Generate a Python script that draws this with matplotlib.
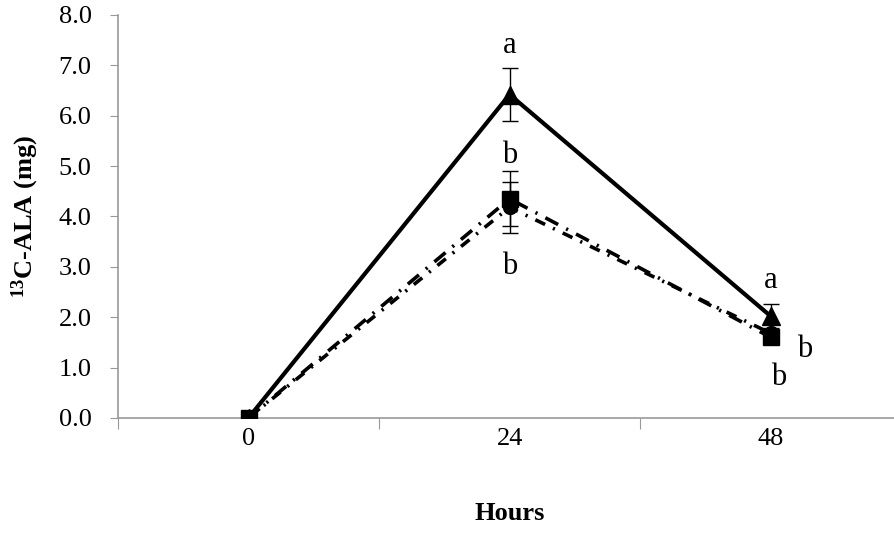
import matplotlib.pyplot as plt

plt.rcParams['font.family'] = ['Liberation Serif', 'DejaVu Serif']

hours = ['0', '24', '48']
tri_mean = [0.0, 6.42, 2.02]
tri_err = [0.0, 0.52, 0.24]
sq_mean = [0.0, 4.35, 1.6]
sq_err = [0.0, 0.55, 0.0]
circ_mean = [0.0, 4.18, 1.68]
circ_err = [0.0, 0.5, 0.0]

# significance letters: (x index, y, text, dx)
letters = [(1, 7.4, 'a', 0.0), (1, 5.2, 'b', 0.0), (1, 3.0, 'b', 0.0),
           (2, 2.72, 'a', 0.0), (2, 1.35, 'b', 0.13), (2, 0.8, 'b', 0.03)]

fig = plt.figure(figsize=(8.94, 5.33), dpi=100)
ax = fig.add_axes([0.132, 0.216, 0.876, 0.756])

x = range(len(hours))
ax.errorbar(x, circ_mean, yerr=circ_err, color='black', lw=2.6, ls=(0, (3, 2.4, 0.6, 2.4)),
            marker='o', ms=10, capsize=6, elinewidth=1, capthick=1, zorder=3)
ax.errorbar(x, sq_mean, yerr=sq_err, color='black', lw=2.6, ls=(0, (4, 2.5, 0.6, 2.5)),
            marker='s', ms=12, capsize=6, elinewidth=1, capthick=1, zorder=3)
ax.errorbar(x, tri_mean, yerr=tri_err, color='black', lw=3, ls='-',
            marker='^', ms=13, capsize=6, elinewidth=1, capthick=1, zorder=4)

for xi, yi, t, dx in letters:
    ax.text(xi + dx, yi, t, ha='center', va='center', fontsize=22)

ax.set_xlim(-0.5, 2.5)
ax.set_ylim(0, 8)
ax.set_yticks([i for i in range(9)])
ax.set_yticklabels(['%.1f' % i for i in range(9)], fontsize=19)
ax.set_xticks([-0.5, 0.5, 1.5, 2.5])
ax.set_xticklabels([])
ax.set_xticks(list(x), minor=True)
ax.set_xticklabels(hours, minor=True, fontsize=19)
ax.tick_params(axis='x', which='minor', length=0, pad=7)
ax.tick_params(axis='x', which='major', length=8, color='#999999', direction='out')
ax.tick_params(axis='y', length=6, color='#999999', pad=13)

for s in ['top', 'right']:
    ax.spines[s].set_visible(False)
for s in ['left', 'bottom']:
    ax.spines[s].set_color('#999999')
    ax.spines[s].set_linewidth(1.2)
ax.spines['bottom'].set_zorder(0)

ax.set_xlabel('Hours', fontsize=19, fontweight='bold', labelpad=38)
ax.set_ylabel(r'$\mathregular{^{13}}$C-ALA (mg)', fontsize=19, fontweight='bold', labelpad=13)

fig.savefig('out.png', dpi=100)
